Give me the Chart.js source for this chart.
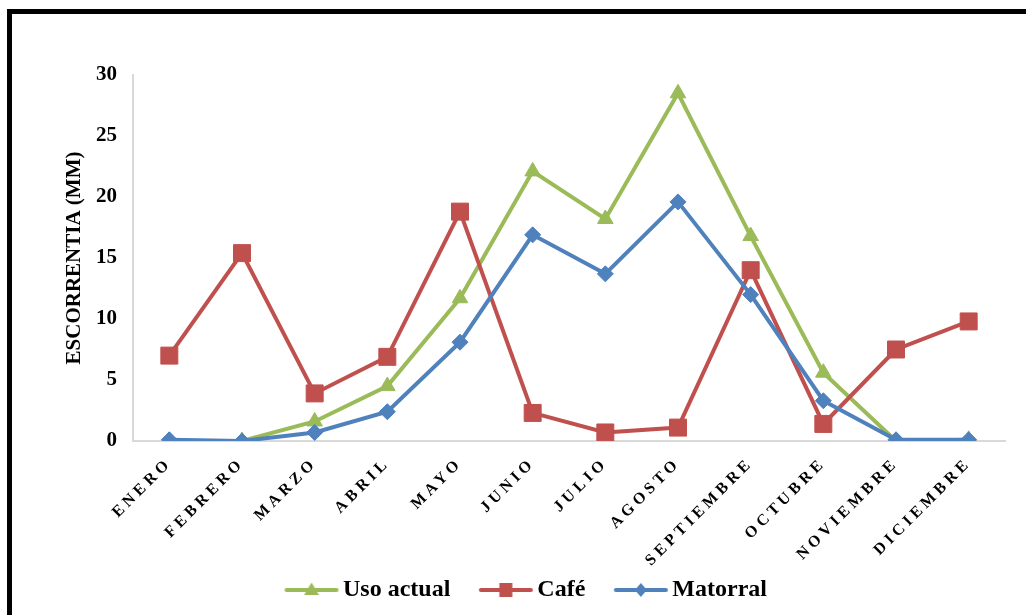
<!DOCTYPE html>
<html>
<head>
<meta charset="utf-8">
<script src="https://cdn.jsdelivr.net/npm/chart.js@4.4.1/dist/chart.umd.min.js"></script>
<style>
  html, body { margin: 0; padding: 0; background: #fff; overflow: hidden; }
  #wrap { position: relative; width: 1026px; height: 615px; }
  #frame { position: absolute; left: 7px; top: 9px; width: 1100px; height: 700px; border: 5px solid #000; box-sizing: border-box; pointer-events: none; }
  canvas { position: absolute; left: 0; top: 0; }
</style>
</head>
<body>
<div id="wrap">
  <canvas id="chart" width="1026" height="615"></canvas>
  <div id="frame"></div>
</div>
<script>
const months = ["ENERO", "FEBRERO", "MARZO", "ABRIL", "MAYO", "JUNIO", "JULIO", "AGOSTO", "SEPTIEMBRE", "OCTUBRE", "NOVIEMBRE", "DICIEMBRE"];
const usoActual = [0.0, 0.0, 1.6, 4.5, 11.7, 22.1, 18.2, 28.5, 16.8, 5.6, 0.0, 0.1];
const cafe = [7.0, 15.4, 3.9, 6.9, 18.8, 2.3, 0.7, 1.1, 14.0, 1.4, 7.5, 9.8];
const matorral = [0.1, 0.0, 0.7, 2.4, 8.1, 16.9, 13.7, 19.6, 12.0, 3.3, 0.1, 0.1];
const yTicks = [0, 5, 10, 15, 20, 25, 30];

const GREEN = "#9BBB59";
const RED = "#C0504D";
const BLUE = "#4F81BD";
const SERIF = "'Liberation Serif', 'Times New Roman', serif";

// legend icons: line with the marker in the middle (line sits off-centre in the canvas)
function legendIcon(color, shape) {
  const c = document.createElement("canvas");
  c.width = 120;
  c.height = 20;
  const ctx = c.getContext("2d");
  const x0 = 46, cx = x0 + 27, cy = 10;
  ctx.strokeStyle = color;
  ctx.fillStyle = color;
  ctx.lineWidth = 4;
  ctx.lineCap = "round";
  ctx.beginPath();
  ctx.moveTo(x0 + 2, cy);
  ctx.lineTo(x0 + 52, cy);
  ctx.stroke();
  ctx.beginPath();
  if (shape === "triangle") {
    ctx.moveTo(cx, cy - 7.5);
    ctx.lineTo(cx + 7.5, cy + 5);
    ctx.lineTo(cx - 7.5, cy + 5);
  } else if (shape === "rect") {
    ctx.rect(cx - 6.5, cy - 7, 13, 14);
  } else {
    ctx.moveTo(cx, cy - 7);
    ctx.lineTo(cx + 6, cy);
    ctx.lineTo(cx, cy + 7);
    ctx.lineTo(cx - 6, cy);
  }
  ctx.closePath();
  ctx.fill();
  return c;
}
const icons = [legendIcon(GREEN, "triangle"), legendIcon(RED, "rect"), legendIcon(BLUE, "diamond")];

// spaced-out letters on the month labels only
const spacedLabels = {
  id: "spacedLabels",
  beforeDraw(chart) {
    const s = chart.scales.x;
    if (s && !s._spaced) {
      const orig = s.drawLabels.bind(s);
      s.drawLabels = function (area) {
        const ctx = chart.ctx;
        ctx.save();
        ctx.letterSpacing = "4px";
        orig(area);
        ctx.restore();
      };
      s._spaced = true;
    }
  }
};

function series(label, data, color, style, radius, order) {
  return {
    label: label,
    data: data,
    borderColor: color,
    backgroundColor: color,
    borderWidth: 4,
    pointStyle: style,
    pointRadius: radius,
    pointHoverRadius: radius,
    pointBorderWidth: 1,
    pointBackgroundColor: color,
    pointBorderColor: color,
    tension: 0,
    order: order
  };
}

new Chart(document.getElementById("chart"), {
  type: "line",
  data: {
    labels: months,
    datasets: [
      series("Uso actual", usoActual, GREEN, "triangle", 9, 3),
      series("Café", cafe, RED, "rect", 12, 2),
      series("Matorral", matorral, BLUE, "rectRot", 8, 1)
    ]
  },
  plugins: [spacedLabels],
  options: {
    responsive: false,
    animation: false,
    layout: { padding: { left: 28, right: 21, top: 75, bottom: 3 } },
    plugins: {
      tooltip: { enabled: false },
      legend: {
        position: "bottom",
        labels: {
          usePointStyle: true,
          pointStyleWidth: 65,
          padding: 10,
          color: "#000",
          font: { family: SERIF, size: 24, weight: "bold" },
          generateLabels(chart) {
            const base = Chart.defaults.plugins.legend.labels.generateLabels(chart);
            base.sort((a, b) => a.datasetIndex - b.datasetIndex);
            return base.map(l => Object.assign(l, { pointStyle: icons[l.datasetIndex] }));
          }
        }
      }
    },
    scales: {
      x: {
        offset: true,
        grid: { display: false, drawTicks: false },
        border: { display: true, color: "#d9d9d9", width: 2 },
        ticks: {
          autoSkip: false,
          minRotation: 45,
          maxRotation: 45,
          padding: 13,
          color: "#000",
          font: { family: SERIF, size: 16, weight: "bold" }
        },
        afterFit(scale) { scale.height = 127; }
      },
      y: {
        min: 0,
        max: 30,
        afterBuildTicks(scale) { scale.ticks = yTicks.map(v => ({ value: v })); },
        grid: { display: false, drawTicks: false },
        border: { display: true, color: "#d9d9d9", width: 2 },
        ticks: {
          padding: 16,
          color: "#000",
          font: { family: SERIF, size: 21, weight: "bold" }
        },
        title: {
          display: true,
          text: "ESCORRENTIA (MM)",
          color: "#000",
          padding: { top: 34, bottom: 0 },
          font: { family: SERIF, size: 21, weight: "bold" }
        },
        afterFit(scale) { scale.width = 105; }
      }
    }
  }
});
</script>
</body>
</html>
